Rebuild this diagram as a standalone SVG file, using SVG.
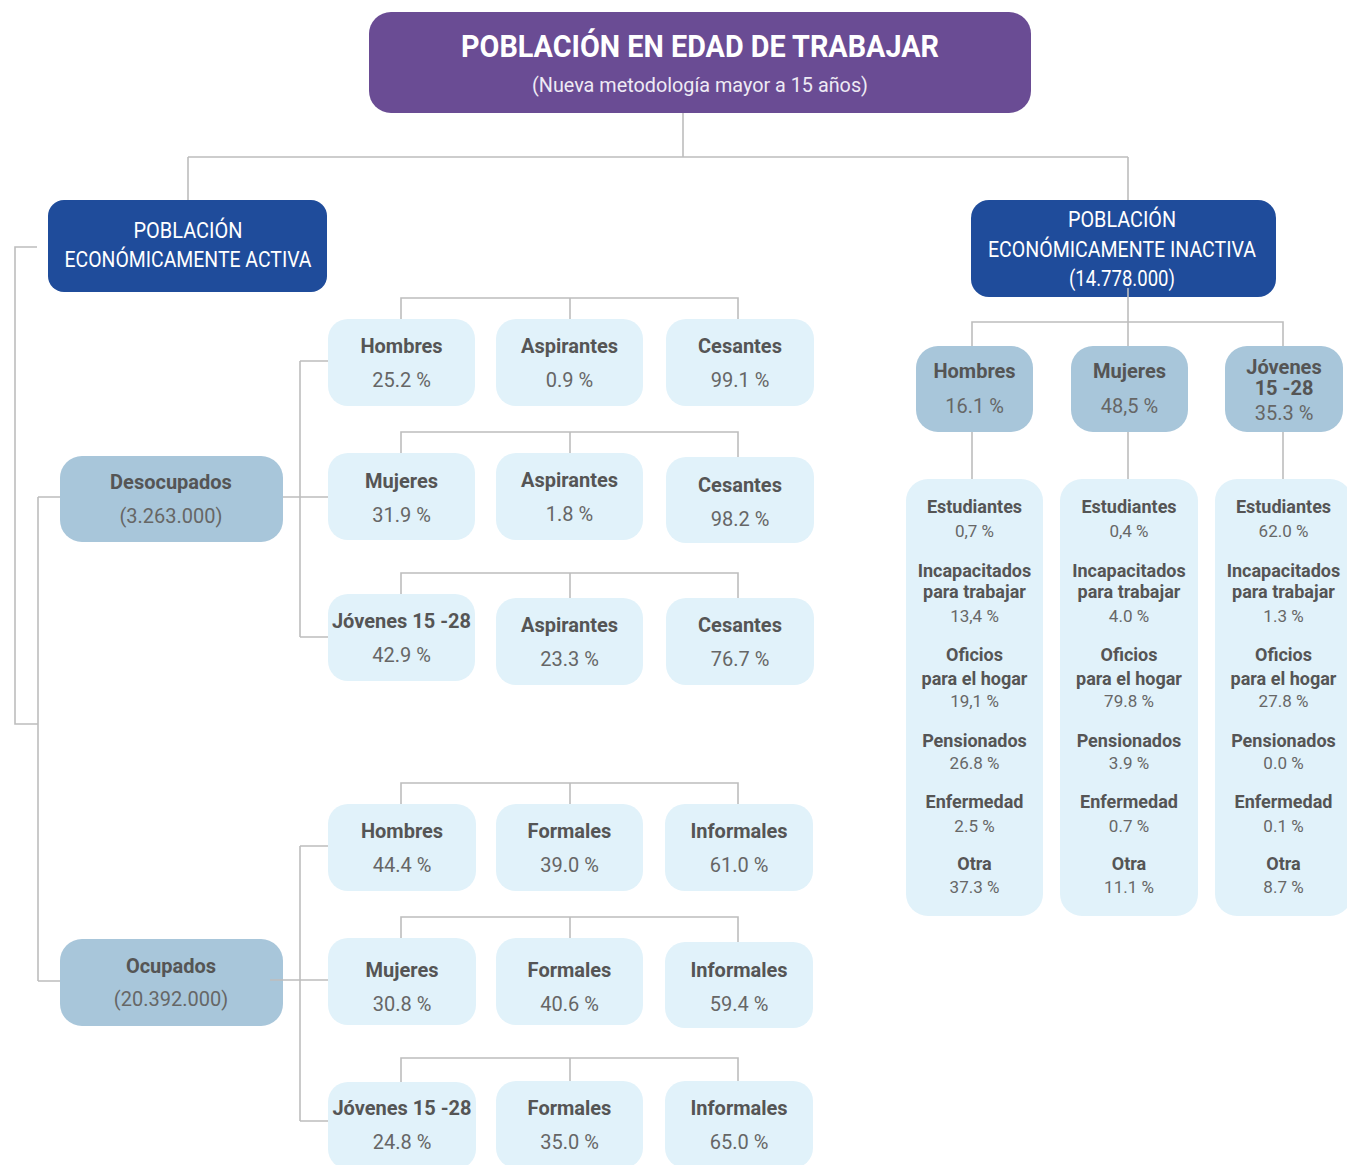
<svg xmlns="http://www.w3.org/2000/svg" width="1347" height="1165" viewBox="0 0 1347 1165">
<style>
text{font-family:Roboto,"Liberation Sans",sans-serif;text-anchor:middle}
.hd{fill:#ffffff;font-size:22px}
.lb{fill:#555555;font-size:20px;font-weight:bold}
.vl{fill:#666666;font-size:20px}
.cl{fill:#555555;font-size:18px;font-weight:bold}
.cv{fill:#676767;font-size:17px}
.lt{fill:#e1f2fa}
.md{fill:#a8c6da}
.dk{fill:#1f4c9b}
.cn{fill:none;stroke:#bdbdbd;stroke-width:1.6}
</style>
<g id="pet">
<rect x="369" y="12" width="662" height="101" rx="22" fill="#6a4c94"/>
<text x="700" y="57" fill="#ffffff" font-size="31" font-weight="bold" textLength="478" lengthAdjust="spacingAndGlyphs">POBLACIÓN EN EDAD DE TRABAJAR</text>
<text x="700" y="92" fill="#eeeaf4" font-size="20" textLength="336" lengthAdjust="spacingAndGlyphs">(Nueva metodología mayor a 15 años)</text>
</g>
<g id="pea">
<rect class="dk" x="48" y="200" width="279" height="92" rx="16"/>
<text class="hd" x="188" y="238" textLength="109" lengthAdjust="spacingAndGlyphs">POBLACIÓN</text>
<text class="hd" x="188" y="267" textLength="247" lengthAdjust="spacingAndGlyphs">ECONÓMICAMENTE ACTIVA</text>
</g>
<g id="pei">
<rect class="dk" x="971" y="200" width="305" height="97" rx="18"/>
<text class="hd" x="1122" y="227" textLength="108" lengthAdjust="spacingAndGlyphs">POBLACIÓN</text>
<text class="hd" x="1122" y="257" textLength="268" lengthAdjust="spacingAndGlyphs">ECONÓMICAMENTE INACTIVA</text>
<text class="hd" x="1122" y="286" font-size="20" textLength="106" lengthAdjust="spacingAndGlyphs">(14.778.000)</text>
</g>
<g id="desocupados">
<rect class="md" x="60" y="456" width="223" height="86" rx="22"/>
<text class="lb" x="171" y="489">Desocupados</text>
<text class="vl" x="171" y="523" font-size="21">(3.263.000)</text>
</g>
<g id="ocupados">
<rect class="md" x="60" y="939" width="223" height="87" rx="22"/>
<text class="lb" x="171" y="973">Ocupados</text>
<text class="vl" x="171" y="1006" font-size="21">(20.392.000)</text>
</g>
<g id="d-hombres"><rect class="lt" x="328" y="319" width="147" height="87" rx="20"/><text class="lb" x="401.5" y="353">Hombres</text><text class="vl" x="401.5" y="387">25.2 %</text></g>
<g id="d-hombres-asp"><rect class="lt" x="496" y="319" width="147" height="87" rx="20"/><text class="lb" x="569.5" y="353">Aspirantes</text><text class="vl" x="569.5" y="387">0.9 %</text></g>
<g id="d-hombres-ces"><rect class="lt" x="666" y="319" width="148" height="87" rx="20"/><text class="lb" x="740" y="353">Cesantes</text><text class="vl" x="740" y="387">99.1 %</text></g>
<g id="d-mujeres"><rect class="lt" x="328" y="453" width="147" height="87" rx="20"/><text class="lb" x="401.5" y="488">Mujeres</text><text class="vl" x="401.5" y="522">31.9 %</text></g>
<g id="d-mujeres-asp"><rect class="lt" x="496" y="453" width="147" height="87" rx="20"/><text class="lb" x="569.5" y="487">Aspirantes</text><text class="vl" x="569.5" y="521">1.8 %</text></g>
<g id="d-mujeres-ces"><rect class="lt" x="666" y="457" width="148" height="86" rx="20"/><text class="lb" x="740" y="492">Cesantes</text><text class="vl" x="740" y="526">98.2 %</text></g>
<g id="d-jovenes"><rect class="lt" x="328" y="594" width="147" height="87" rx="20"/><text class="lb" x="401.5" y="628">Jóvenes 15 -28</text><text class="vl" x="401.5" y="662">42.9 %</text></g>
<g id="d-jovenes-asp"><rect class="lt" x="496" y="598" width="147" height="87" rx="20"/><text class="lb" x="569.5" y="632">Aspirantes</text><text class="vl" x="569.5" y="666">23.3 %</text></g>
<g id="d-jovenes-ces"><rect class="lt" x="666" y="598" width="148" height="87" rx="20"/><text class="lb" x="740" y="632">Cesantes</text><text class="vl" x="740" y="666">76.7 %</text></g>
<g id="o-hombres"><rect class="lt" x="328" y="804" width="148" height="87" rx="20"/><text class="lb" x="402" y="838">Hombres</text><text class="vl" x="402" y="872">44.4 %</text></g>
<g id="o-hombres-for"><rect class="lt" x="496" y="804" width="147" height="87" rx="20"/><text class="lb" x="569.5" y="838">Formales</text><text class="vl" x="569.5" y="872">39.0 %</text></g>
<g id="o-hombres-inf"><rect class="lt" x="665" y="804" width="148" height="87" rx="20"/><text class="lb" x="739" y="838">Informales</text><text class="vl" x="739" y="872">61.0 %</text></g>
<g id="o-mujeres"><rect class="lt" x="328" y="938" width="148" height="87" rx="20"/><text class="lb" x="402" y="977">Mujeres</text><text class="vl" x="402" y="1011">30.8 %</text></g>
<g id="o-mujeres-for"><rect class="lt" x="496" y="938" width="147" height="87" rx="20"/><text class="lb" x="569.5" y="977">Formales</text><text class="vl" x="569.5" y="1011">40.6 %</text></g>
<g id="o-mujeres-inf"><rect class="lt" x="665" y="942" width="148" height="86" rx="20"/><text class="lb" x="739" y="977">Informales</text><text class="vl" x="739" y="1011">59.4 %</text></g>
<g id="o-jovenes"><rect class="lt" x="328" y="1082" width="148" height="87" rx="20"/><text class="lb" x="402" y="1115">Jóvenes 15 -28</text><text class="vl" x="402" y="1149">24.8 %</text></g>
<g id="o-jovenes-for"><rect class="lt" x="496" y="1081" width="147" height="87" rx="20"/><text class="lb" x="569.5" y="1115">Formales</text><text class="vl" x="569.5" y="1149">35.0 %</text></g>
<g id="o-jovenes-inf"><rect class="lt" x="665" y="1081" width="148" height="87" rx="20"/><text class="lb" x="739" y="1115">Informales</text><text class="vl" x="739" y="1149">65.0 %</text></g>
<g id="i-hombres"><rect class="md" x="916" y="346" width="117" height="86" rx="22"/><text class="lb" x="974.5" y="378">Hombres</text><text class="vl" x="974.5" y="413">16.1 %</text></g>
<g id="i-mujeres"><rect class="md" x="1071" y="346" width="117" height="86" rx="22"/><text class="lb" x="1129.5" y="378">Mujeres</text><text class="vl" x="1129.5" y="413">48,5 %</text></g>
<g id="i-jovenes"><rect class="md" x="1225" y="346" width="118" height="86" rx="22"/><text class="lb" x="1284" y="374" font-size="18">Jóvenes</text><text class="lb" x="1284" y="395" font-size="18">15 -28</text><text class="vl" x="1284" y="420" font-size="19">35.3 %</text></g>
<g id="i-hombres-det">
<rect class="lt" x="906" y="479" width="137" height="437" rx="22"/>
<text class="cl" x="974.5" y="513">Estudiantes</text><text class="cv" x="974.5" y="537">0,7 %</text>
<text class="cl" x="974.5" y="577">Incapacitados</text><text class="cl" x="974.5" y="598">para trabajar</text><text class="cv" x="974.5" y="622">13,4 %</text>
<text class="cl" x="974.5" y="661">Oficios</text><text class="cl" x="974.5" y="685">para el hogar</text><text class="cv" x="974.5" y="707">19,1 %</text>
<text class="cl" x="974.5" y="747">Pensionados</text><text class="cv" x="974.5" y="769">26.8 %</text>
<text class="cl" x="974.5" y="808">Enfermedad</text><text class="cv" x="974.5" y="832">2.5 %</text>
<text class="cl" x="974.5" y="870">Otra</text><text class="cv" x="974.5" y="893">37.3 %</text>
</g>
<g id="i-mujeres-det">
<rect class="lt" x="1060" y="479" width="138" height="437" rx="22"/>
<text class="cl" x="1129" y="513">Estudiantes</text><text class="cv" x="1129" y="537">0,4 %</text>
<text class="cl" x="1129" y="577">Incapacitados</text><text class="cl" x="1129" y="598">para trabajar</text><text class="cv" x="1129" y="622">4.0 %</text>
<text class="cl" x="1129" y="661">Oficios</text><text class="cl" x="1129" y="685">para el hogar</text><text class="cv" x="1129" y="707">79.8 %</text>
<text class="cl" x="1129" y="747">Pensionados</text><text class="cv" x="1129" y="769">3.9 %</text>
<text class="cl" x="1129" y="808">Enfermedad</text><text class="cv" x="1129" y="832">0.7 %</text>
<text class="cl" x="1129" y="870">Otra</text><text class="cv" x="1129" y="893">11.1 %</text>
</g>
<g id="i-jovenes-det">
<rect class="lt" x="1215" y="479" width="137" height="437" rx="22"/>
<text class="cl" x="1283.5" y="513">Estudiantes</text><text class="cv" x="1283.5" y="537">62.0 %</text>
<text class="cl" x="1283.5" y="577">Incapacitados</text><text class="cl" x="1283.5" y="598">para trabajar</text><text class="cv" x="1283.5" y="622">1.3 %</text>
<text class="cl" x="1283.5" y="661">Oficios</text><text class="cl" x="1283.5" y="685">para el hogar</text><text class="cv" x="1283.5" y="707">27.8 %</text>
<text class="cl" x="1283.5" y="747">Pensionados</text><text class="cv" x="1283.5" y="769">0.0 %</text>
<text class="cl" x="1283.5" y="808">Enfermedad</text><text class="cv" x="1283.5" y="832">0.1 %</text>
<text class="cl" x="1283.5" y="870">Otra</text><text class="cv" x="1283.5" y="893">8.7 %</text>
</g>
<g id="connectors" class="cn">
<path d="M683 113V157M188 157H1128M188 157V200M1128 157V200"/>
<path d="M37 247H15V724H38M38 497V981M38 497H60M38 981H60"/>
<path d="M283 497H328M300 361V637M300 361H328M300 637H328"/>
<path d="M270 980H328M300 846V1121M300 846H328M300 1121H328"/>
<path d="M401 319V298H738V319M570 298V319"/>
<path d="M401 453V432H738V457M570 432V453"/>
<path d="M401 594V573H738V598M570 573V598"/>
<path d="M401 804V783H738V804M570 783V804"/>
<path d="M401 938V917H738V942M570 917V938"/>
<path d="M401 1082V1058H738V1081M570 1058V1081"/>
<path d="M1128 288V346M972 346V322H1283V346"/>
<path d="M972 432V479M1128 432V479M1283 432V479"/>
</g>
</svg>
